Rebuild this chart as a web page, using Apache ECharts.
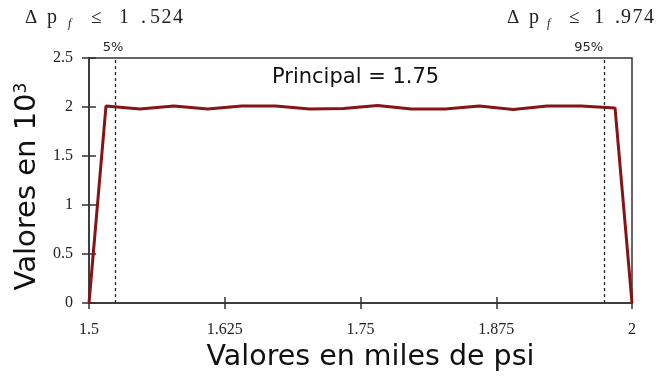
<!DOCTYPE html>
<html>
<head>
<meta charset="utf-8">
<script src="https://cdn.jsdelivr.net/npm/echarts@6/dist/echarts.min.js"></script>
<style>
  html, body { margin: 0; padding: 0; background: #ffffff; }
  #chart { width: 659px; height: 379px; }
</style>
</head>
<body>
<div id="chart"></div>
<script>
// Simulated distribution of pressure drop (thousands of psi), bin centres
const xValues = [1.5, 1.515625, 1.546875, 1.578125, 1.609375, 1.640625, 1.671875,
  1.703125, 1.734375, 1.765625, 1.796875, 1.828125, 1.859375, 1.890625,
  1.921875, 1.953125, 1.984375, 2.0];
// Frequency per bin, in thousands
const yValues = [0, 2.01, 1.98, 2.01, 1.98, 2.01, 2.01, 1.98, 1.985, 2.015,
  1.98, 1.98, 2.01, 1.975, 2.01, 2.01, 1.99, 0];

// Percentile markers
const p5 = 1.524;
const p95 = 1.974;
const p5Label = '5%';
const p95Label = '95%';
const principalValue = 1.75;

const xTicks = { min: 1.5, max: 2, interval: 0.125 };
const yTicks = { min: 0, max: 2.5, interval: 0.5 };

const chart = echarts.init(document.getElementById('chart'), null, { renderer: 'canvas' });

const serif = '"Liberation Serif", "Times New Roman", serif';
const sans = '"DejaVu Sans", sans-serif';
const gridBox = { left: 89, right: 27, top: 58, bottom: 76 };

const pointData = xValues.map((x, i) => [x, yValues[i]]);

// Spaced-out serif caption: Δ p_f ≤ value, each glyph in its own fixed box
function deltaText(val) {
  let s = '{d|Δ}{p|p}{sub|f}{le|≤}';
  let first = true;
  for (const ch of val) {
    if (ch === ' ') continue;
    if (ch === '.') s += '{dot|.}';
    else if (first) { s += '{one|' + ch + '}'; first = false; }
    else s += '{dg|' + ch + '}';
  }
  return s;
}
const glyph = (w, extra) => Object.assign({ fontFamily: serif, fontSize: 20, fill: '#222', width: w, align: 'left' }, extra || {});
function deltaRich(w) {
  return {
    d: glyph(w[0], { fontSize: 19 }),
    p: glyph(w[1]),
    sub: glyph(w[2], { fontSize: 12, fontStyle: 'italic', padding: [12, 0, 0, 0] }),
    le: glyph(w[3], { fontSize: 19 }),
    one: glyph(w[4]),
    dot: glyph(w[5]),
    dg: glyph(w[6])
  };
}

chart.setOption({
  animation: false,
  backgroundColor: '#ffffff',
  grid: Object.assign({
    show: true, borderColor: '#333', borderWidth: 1.5, backgroundColor: 'transparent',
    containLabel: false, outerBoundsMode: 'none'
  }, gridBox),
  xAxis: [{
    type: 'value',
    min: xTicks.min, max: xTicks.max, interval: xTicks.interval,
    name: 'Valores en miles de psi',
    nameLocation: 'middle',
    nameGap: 38,
    nameTextStyle: { fontFamily: sans, fontSize: 28.5, color: '#111', padding: [0, 0, 0, 20] },
    axisLine: { show: true, onZero: false, lineStyle: { color: '#333', width: 1.5 } },
    axisTick: { show: true, length: 6, lineStyle: { color: '#333', width: 1.5 } },
    axisLabel: { margin: 19, fontFamily: serif, fontSize: 16, color: '#222' },
    splitLine: { show: false }
  }, {
    type: 'value', position: 'bottom',
    min: xTicks.min, max: xTicks.max, interval: xTicks.interval,
    axisLine: { show: false },
    axisTick: { show: true, inside: true, length: 6, lineStyle: { color: '#333', width: 1.5 } },
    axisLabel: { show: false },
    splitLine: { show: false }
  }],
  yAxis: [{
    type: 'value',
    min: yTicks.min, max: yTicks.max, interval: yTicks.interval,
    name: 'Valores en 10{sup|3}',
    nameLocation: 'middle',
    nameGap: 42,
    nameRotate: 90,
    nameTextStyle: {
      fontFamily: sans, fontSize: 29, color: '#111', padding: [0, 12, 0, 0],
      rich: { sup: { fontFamily: sans, fontSize: 17, color: '#111', padding: [0, 0, 13, 0] } }
    },
    axisLine: { show: true, onZero: false, lineStyle: { color: '#333', width: 1.5 } },
    axisTick: { show: true, length: 7, lineStyle: { color: '#333', width: 1.5 } },
    axisLabel: { margin: 16, fontFamily: serif, fontSize: 16, color: '#222' },
    splitLine: { show: false }
  }, {
    type: 'value', position: 'left',
    min: yTicks.min, max: yTicks.max, interval: yTicks.interval,
    axisLine: { show: false },
    axisTick: { show: true, inside: true, length: 7, lineStyle: { color: '#333', width: 1.5 } },
    axisLabel: { show: false },
    splitLine: { show: false }
  }],
  series: [{
    type: 'line',
    xAxisIndex: 0,
    yAxisIndex: 0,
    data: pointData,
    showSymbol: false,
    symbol: 'none',
    lineStyle: { color: '#861414', width: 3 },
    z: 3,
    markLine: {
      silent: true,
      precision: 3,
      symbol: ['none', 'none'],
      lineStyle: { color: '#222', type: [3, 3], width: 1.3 },
      label: { show: true, position: 'end', fontFamily: sans, fontSize: 13, color: '#222', distance: 4 },
      data: [
        { xAxis: p5, label: { formatter: p5Label, offset: [-2, 0] } },
        { xAxis: p95, label: { formatter: p95Label, offset: [-15, 0] } }
      ]
    }
  }],
  graphic: [{
    type: 'text',
    left: 272, top: 67,
    style: {
      text: 'Principal = ' + principalValue,
      fontFamily: sans, fontSize: 21, fill: '#111'
    }
  }, {
    type: 'text',
    left: 25, top: 8,
    style: { text: deltaText('1 .524'), rich: deltaRich([22, 21, 23, 28, 22, 9, 11.5]) }
  }, {
    type: 'text',
    left: 507, top: 8,
    style: { text: deltaText('1 .974'), rich: deltaRich([22, 18, 22, 25, 21, 6, 11.5]) }
  }]
});
</script>
</body>
</html>
